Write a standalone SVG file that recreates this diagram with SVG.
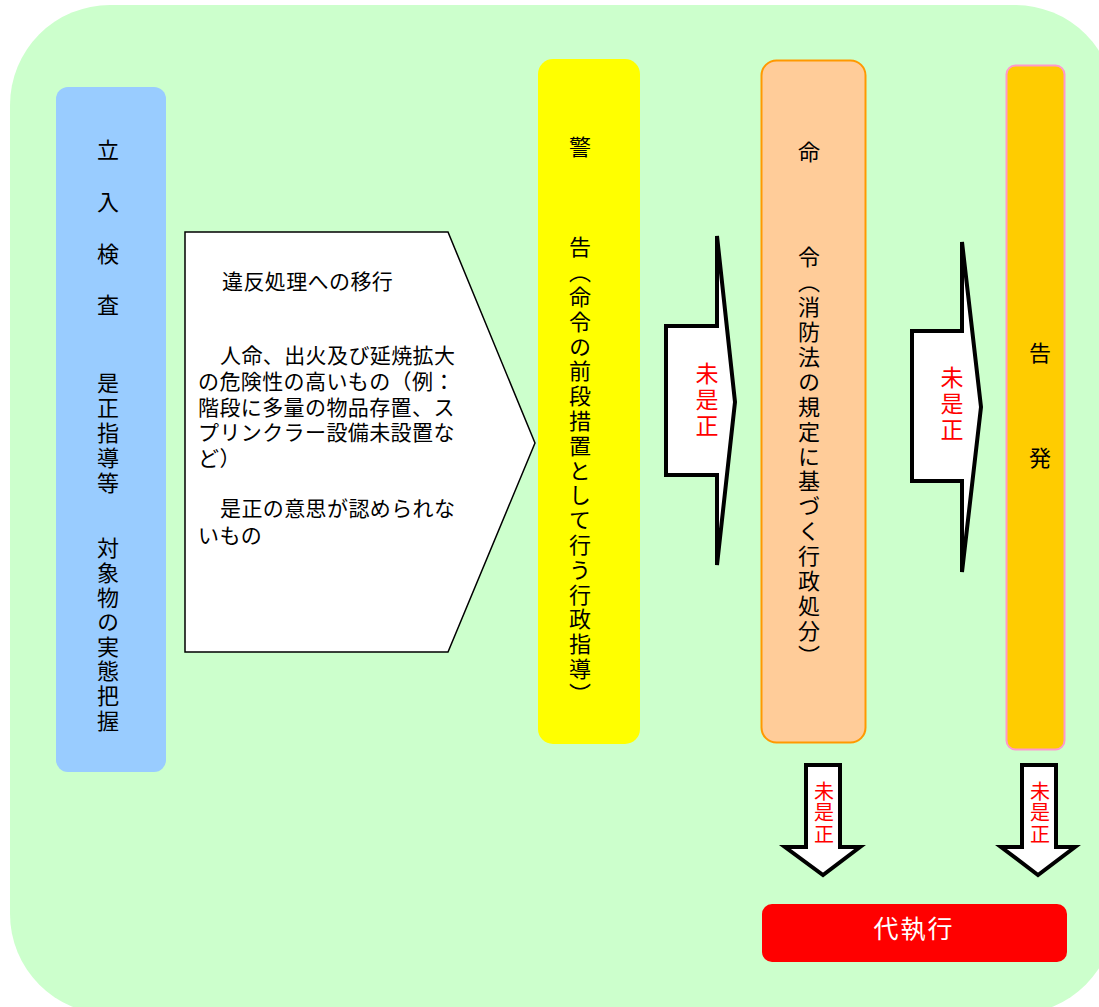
<svg xmlns="http://www.w3.org/2000/svg" width="1099" height="1007" viewBox="0 0 1099 1007">
<style>
text{font-family:"Noto Sans CJK JP","Noto Sans",sans-serif;}
.v{writing-mode:vertical-rl;font-size:22px;fill:#000;}
.t{font-size:21px;letter-spacing:0.4px;fill:#000;}
.r{font-size:23px;fill:#FF0000;writing-mode:vertical-rl;letter-spacing:3px;}
.rs{font-size:20px;fill:#FF0000;writing-mode:vertical-rl;letter-spacing:1.5px;}
.arr{fill:#FFFFFF;stroke:#000;stroke-width:4;stroke-linejoin:miter;}
</style>
<rect x="10" y="5" width="1105" height="1009" rx="100" ry="100" fill="#CCFFCC"/>
<g id="node-inspection">
<rect x="56" y="87" width="110" height="685" rx="12" fill="#99CCFF"/>
<text class="v" x="108" y="139" letter-spacing="3.8">立　入　検　査</text>
<text class="v" x="108" y="372" letter-spacing="3">是正指導等</text>
<text class="v" x="108" y="537" letter-spacing="2.6">対象物の実態把握</text>
</g>
<g id="node-transition">
<polygon points="185,232 448,232 535,443 448,652 185,652" fill="#FFFFFF" stroke="#000" stroke-width="1.5"/>
<text class="t" x="222" y="289">違反処理への移行</text>
<text class="t" x="220" y="363">人命、出火及び延焼拡大</text>
<text class="t" x="198" y="389">の危険性の高いもの（例：</text>
<text class="t" x="198" y="415">階段に多量の物品存置、ス</text>
<text class="t" x="198" y="440">プリンクラー設備未設置な</text>
<text class="t" x="198" y="466">ど）</text>
<text class="t" x="220" y="516">是正の意思が認められな</text>
<text class="t" x="198" y="543">いもの</text>
</g>
<g id="node-warning">
<rect x="538" y="59" width="102" height="685" rx="15" fill="#FFFF00"/>
<text class="v" x="580" y="136">警</text>
<text class="v" x="580" y="236" letter-spacing="2.8">告（命令の前段措置として行う行政指導）</text>
</g>
<g id="node-order">
<rect x="761.5" y="60.5" width="104" height="682" rx="15" fill="#FFCC99" stroke="#FF9900" stroke-width="2"/>
<text class="v" x="809" y="141">命</text>
<text class="v" x="809" y="246" letter-spacing="2.9">令（消防法の規定に基づく行政処分）</text>
</g>
<g id="node-accusation">
<rect x="1006.5" y="65.5" width="58" height="684" rx="9" fill="#FFCC00" stroke="#FF99CC" stroke-width="2"/>
<text class="v" x="1040" y="342">告</text>
<text class="v" x="1040" y="447">発</text>
</g>
<g id="node-execution">
<rect x="762" y="904" width="305" height="58" rx="10" fill="#FF0000"/>
<text x="914" y="938" text-anchor="middle" font-size="25" letter-spacing="2" fill="#FFFFFF">代執行</text>
</g>
<g id="connectors">
<polygon class="arr" points="666,326 717,326 717,236 735,402 717,565 717,475 666,475"/>
<text class="r" x="707" y="362">未是正</text>
<polygon class="arr" points="912,331 962,331 962,242 981,407 962,572 962,481 912,481"/>
<text class="r" x="952" y="366">未是正</text>
<polygon class="arr" points="806,765 840,765 840,847 860,847 823,875 785,847 806,847"/>
<text class="rs" x="824" y="781">未是正</text>
<polygon class="arr" points="1022,765 1056,765 1056,847 1075,847 1038,875 1001,847 1022,847"/>
<text class="rs" x="1040" y="781">未是正</text>
</g>
</svg>
